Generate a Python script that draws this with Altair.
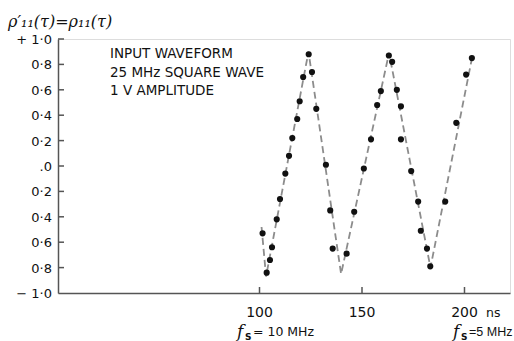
import altair as alt
import pandas as pd

# measured correlation points (delay in ns, correlation)
t_ns = [101.5, 103.5, 105.1, 106.1, 108.4, 110.0, 112.6, 114.4, 116.0, 118.4,
        119.6, 121.3, 124.0, 125.6, 127.7, 132.4, 134.5, 135.7, 142.5, 146.2,
        150.9, 154.4, 157.4, 159.2, 163.1, 164.7, 167.0, 169.0, 169.0, 174.0,
        177.4, 178.7, 181.7, 183.3, 190.6, 196.0, 200.8, 203.6]
rho = [-0.53, -0.84, -0.74, -0.64, -0.42, -0.26, -0.06, 0.08, 0.22, 0.37,
       0.51, 0.70, 0.88, 0.74, 0.45, 0.01, -0.35, -0.65, -0.69, -0.36,
       -0.02, 0.21, 0.48, 0.59, 0.87, 0.82, 0.60, 0.47, 0.21, -0.04,
       -0.28, -0.51, -0.65, -0.79, -0.28, 0.34, 0.72, 0.85]

# dashed theoretical curve vertices
line_t = [101.0, 103.2, 123.9, 139.8, 163.2, 183.4, 203.9]
line_rho = [-0.48, -0.87, 0.90, -0.85, 0.89, -0.80, 0.87]

y_tick_values = [1.0, 0.8, 0.6, 0.4, 0.2, 0.0, -0.2, -0.4, -0.6, -0.8, -1.0]
y_tick_labels = ["+ 1·0", "0·8", "0·6", "0·4", "0·2", ".0", "0·2", "0·4", "0·6", "0·8", "− 1·0"]
y_inner_ticks = [1.0, 0.8, 0.6, 0.4, 0.2, 0.0, -0.2, -0.4, -0.6, -0.8]
x_tick_values = [100, 150, 200]
x_tick_labels = ["100", "150", "200"]
x_unit = "ns"
annotation_lines = ["INPUT WAVEFORM", "25 MHz SQUARE WAVE", "1 V AMPLITUDE"]
y_title = "ρ′₁₁(τ)=ρ₁₁(τ)"
fs_labels = ["= 10 MHz", "=5 MHz"]

W, H = 452, 254
XDOM = [1.7, 222.2]
YDOM = [-1.0, 1.0]
FONT = "DejaVu Sans"
AX = "#555555"
TXT = "#111111"

pts = pd.DataFrame({"t": t_ns, "rho": rho})
ln = pd.DataFrame({"t": line_t, "rho": line_rho})
yt = pd.DataFrame({"v": y_inner_ticks})
xt = pd.DataFrame({"v": x_tick_values})
ylab = pd.DataFrame({"v": y_tick_values, "label": y_tick_labels})
xlab = pd.DataFrame({"v": x_tick_values, "label": x_tick_labels})
one = pd.DataFrame({"a": [0]})

xs = alt.Scale(domain=XDOM, nice=False, zero=False)
ys = alt.Scale(domain=YDOM, nice=False, zero=False)

line = alt.Chart(ln).mark_line(strokeDash=[7, 4], color="#8c8c8c", strokeWidth=1.8).encode(
    x=alt.X("t:Q", scale=xs, axis=alt.Axis(labels=False, ticks=False, title=None, grid=False,
                                         domainColor=AX, domainWidth=1.5)),
    y=alt.Y("rho:Q", scale=ys, axis=alt.Axis(labels=False, ticks=False, title=None, grid=False,
                                           domainColor=AX, domainWidth=1.5)),
)

points = alt.Chart(pts).mark_circle(size=38, color="#111111", opacity=1).encode(
    x=alt.X("t:Q", scale=xs), y=alt.Y("rho:Q", scale=ys))

ytick_marks = alt.Chart(yt).mark_rule(color=AX, strokeWidth=1.5).encode(
    y=alt.Y("v:Q", scale=ys), x=alt.value(0), x2=alt.value(6))
xtick_marks = alt.Chart(xt).mark_rule(color=AX, strokeWidth=1.5).encode(
    x=alt.X("v:Q", scale=xs), y=alt.value(H), y2=alt.value(H - 6))

ylabels = alt.Chart(ylab).mark_text(align="right", baseline="middle", font=FONT, fontSize=13,
                                    dy=1, color=TXT).encode(
    y=alt.Y("v:Q", scale=ys), x=alt.value(-6), text="label:N")
xlabels = alt.Chart(xlab).mark_text(align="center", baseline="alphabetic", font=FONT, fontSize=14,
                                    color=TXT).encode(
    x=alt.X("v:Q", scale=xs), y=alt.value(278), text="label:N")

annot = alt.Chart(one).mark_text(text=annotation_lines, align="left", baseline="top", font=FONT,
                                 fontSize=13.5, lineHeight=18.5, color=TXT).encode(
    x=alt.value(52), y=alt.value(8))

title = alt.Chart(one).mark_text(text=y_title, align="left", baseline="alphabetic",
                                 font="DejaVu Serif", fontStyle="italic", fontSize=16,
                                 color=TXT).encode(x=alt.value(-50), y=alt.value(-12))

unit = alt.Chart(one).mark_text(text=x_unit, align="left", baseline="alphabetic", font=FONT,
                                fontSize=12.5, color=TXT).encode(x=alt.value(428), y=alt.value(278))

def fs(xf, lab, font, size):
    f = alt.Chart(one).mark_text(text="f", align="left", baseline="alphabetic", font="DejaVu Serif",
                                 fontStyle="italic", fontSize=17, color=TXT).encode(
        x=alt.value(xf), y=alt.value(298))
    s = alt.Chart(one).mark_text(text="S", align="left", baseline="alphabetic", font=FONT,
                                 fontWeight="bold", fontSize=9, color=TXT).encode(
        x=alt.value(xf + 8), y=alt.value(301))
    e = alt.Chart(one).mark_text(text=lab, align="left", baseline="alphabetic", font=font,
                                 fontSize=size, color=TXT).encode(
        x=alt.value(xf + 16), y=alt.value(297))
    return [f, s, e]

layers = ([line, points, ytick_marks, xtick_marks, ylabels, xlabels, annot, title, unit]
          + fs(179, fs_labels[0], FONT, 12.5) + fs(395, fs_labels[1], "Liberation Sans", 12.5))

chart = alt.layer(*layers).properties(
    width=W, height=H,
    autosize=alt.AutoSizeParams(type="none"),
    padding={"left": 58, "top": 39, "right": 4, "bottom": 48},
).configure_view(stroke=None).configure(background="white")

chart.save("out.html", embed_options={"renderer": "svg", "actions": False})
